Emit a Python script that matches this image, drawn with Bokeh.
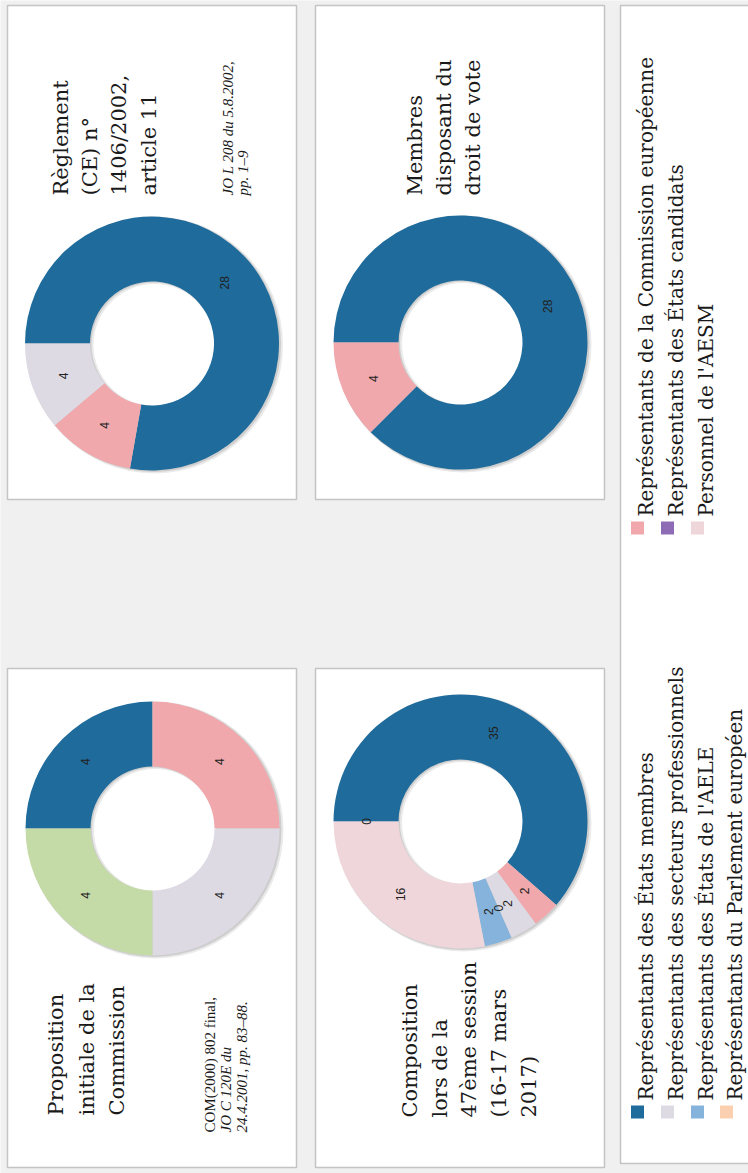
import math
from bokeh.plotting import figure
from bokeh.models import Range1d
from bokeh.core.properties import value
from bokeh.embed import file_html
from bokeh.resources import INLINE

# ---------------- data ----------------
categories = [
    "Représentants des États membres",
    "Représentants de la Commission européenne",
    "Représentants des secteurs professionnels",
    "Représentants des États candidats",
    "Représentants des États de l'AELE",
    "Personnel de l'AESM",
    "Représentants du Parlement européen",
    "Autre catégorie",
]
colors = ["#1f6b9b", "#f0a8ac", "#dddae4", "#8d6cb5",
          "#86b3dc", "#efd6da", "#fbd0b0", "#c5dba7"]

proposition_initiale = [4, 4, 4, None, None, None, None, 4]
reglement_1406_2002 = [28, 4, 4, None, None, None, None, None]
membres_droit_vote = [28, 4, None, None, None, None, None, None]
composition_47e_session = [35, 2, 2, 0, 2, 16, 0, None]

title_reglement = ["Règlement", "(CE) n°", "1406/2002,", "article 11"]
cite_reglement = ["JO L 208 du 5.8.2002,", "pp. 1–9"]
title_membres = ["Membres", "disposant du", "droit de vote"]
title_proposition = ["Proposition", "initiale de la", "Commission"]
cite_proposition = ["COM(2000) 802 final,", "JO C 120E du", "24.4.2001, pp. 83–88."]
title_composition = ["Composition", "lors de la", "47ème session", "(16-17 mars", "2017)"]

# ---------------- figure ----------------
W, H = 748, 1173
p = figure(width=W, height=H, x_range=Range1d(0, W), y_range=Range1d(-H, 0),
           output_backend="svg", toolbar_location=None, min_border=0,
           x_axis_type=None, y_axis_type=None)
p.grid.visible = False
p.outline_line_color = None
p.background_fill_color = "#f0f0f0"
p.border_fill_color = "#f0f0f0"

SERIF = "DejaVu Serif"
SANS = "Liberation Sans"


def box(x0, y0, x1, y1):
    p.quad(left=[x0], right=[x1], top=[-y0], bottom=[-y1],
           fill_color="white", line_color="#c4c4c4", line_width=1.5)


def rtext(x, y, txt, size, font=SERIF, style="normal", color="#1a1a1a",
          align="left", baseline="alphabetic"):
    p.text(x=[x], y=[-y], text=[txt], angle=math.pi / 2,
           text_font=value(font), text_font_size=f"{size}px",
           text_font_style=style, text_color=color,
           text_align=align, text_baseline=baseline)


def donut(cx, cy, vals, r_in=62, r_out=127):
    idx = [i for i, v in enumerate(vals) if v is not None]
    total = float(sum(vals[i] for i in idx))
    # soft drop shadow
    p.annulus(x=[cx + 2.5], y=[-(cy + 1.5)], inner_radius=r_in - 1, outer_radius=r_out + 1.5,
              fill_color="#8c8c8c", fill_alpha=0.18, line_color=None)
    p.annulus(x=[cx + 1.5], y=[-(cy + 1)], inner_radius=r_in, outer_radius=r_out + 0.5,
              fill_color="#7a7a7a", fill_alpha=0.25, line_color=None)
    b = 270.0
    st, en, cl = [], [], []
    lx, ly, lt = [], [], []
    rm = (r_in + r_out) / 2.0
    for i in idx:
        span = 360.0 * vals[i] / total
        b0, b1 = b, b + span
        if span > 0:
            st.append(math.radians(90 - b1))
            en.append(math.radians(90 - b0))
            cl.append(colors[i])
        mid = math.radians((b0 + b1) / 2.0)
        lx.append(cx + rm * math.sin(mid))
        ly.append(-(cy - rm * math.cos(mid)))
        lt.append(str(vals[i]))
        b = b1
    n = len(st)
    p.annular_wedge(x=[cx] * n, y=[-cy] * n, inner_radius=r_in, outer_radius=r_out,
                    start_angle=st, end_angle=en, fill_color=cl, line_color=None)
    p.text(x=lx, y=ly, text=lt, angle=math.pi / 2, text_font=value(SANS),
           text_font_size="12px", text_color="#222222",
           text_align="center", text_baseline="middle")


# panels
box(7, 5, 296, 499)
box(315, 5, 604, 499)
box(7, 668, 296, 1167)
box(315, 668, 604, 1167)
box(620, 5, 770, 1163)

# donuts
donut(151.5, 343, reglement_1406_2002)
donut(460, 342, membres_droit_vote)
donut(152, 828, proposition_initiale)
donut(460, 821, composition_47e_session)

# titles
for t, bx in zip(title_reglement, [60, 89, 118.5, 148]):
    rtext(bx, 195, t, 21)
for t, bx in zip(cite_reglement, [227, 242]):
    rtext(bx, 195, t, 15, font="Liberation Serif", style="italic")

for t, bx in zip(title_membres, [414, 443, 472]):
    rtext(bx, 195, t, 21)

for t, bx in zip(title_proposition, [55, 86, 116]):
    rtext(bx, 1115, t, 21)
for t, bx, stl in zip(cite_proposition, [209, 225, 241], ["normal", "italic", "italic"]):
    rtext(bx, 1132, t, 15, font="Liberation Serif", style=stl)

for t, bx in zip(title_composition, [409, 439, 468, 498, 528]):
    rtext(bx, 1117, t, 21)

# legend: group 1 (entries 0,2,4,6) and group 2 (entries 1,3,5)
col_base = [645, 675, 705, 734]
col_mark = [637, 667, 697, 726]
groups = [([0, 2, 4, 6], 1100), ([1, 3, 5], 516)]
for members, ystart in groups:
    for k, ci in enumerate(members):
        p.rect(x=[col_mark[k]], y=[-(ystart + 11.5)], width=13, height=13,
               fill_color=colors[ci], line_color=None)
        rtext(col_base[k], ystart, categories[ci], 20)

open("out.html", "w").write(file_html(p, INLINE))
